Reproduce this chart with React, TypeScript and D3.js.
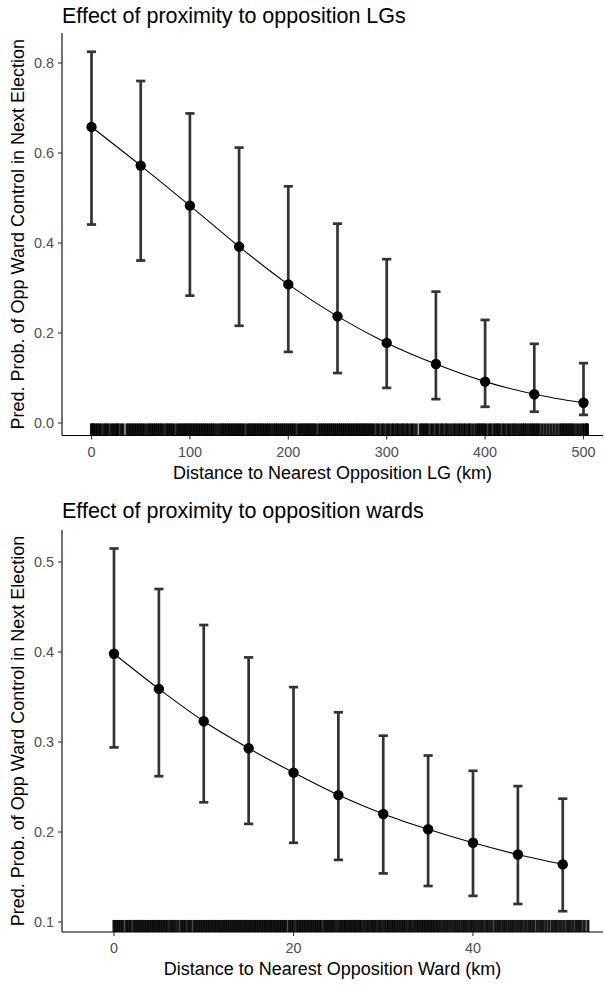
import React from "react";
import * as d3 from "d3";

// ---------- Panel 1: distance to opposition LGs ----------
const lgDistance = [0, 50, 100, 150, 200, 250, 300, 350, 400, 450, 500];
const lgEstimate = [0.658, 0.572, 0.483, 0.392, 0.308, 0.237, 0.178, 0.131, 0.092, 0.064, 0.045];
const lgUpper = [0.825, 0.760, 0.688, 0.612, 0.526, 0.443, 0.364, 0.292, 0.229, 0.176, 0.133];
const lgLower = [0.441, 0.361, 0.283, 0.216, 0.158, 0.111, 0.078, 0.053, 0.036, 0.025, 0.018];
const lgYTicks = [0, 0.2, 0.4, 0.6, 0.8];
const lgXTicks = [0, 100, 200, 300, 400, 500];
const lgRug = [
  0, 1, 2, 4, 6, 8, 10, 13, 15, 17, 20, 22, 24, 26, 27, 30, 32, 36, 38, 40, 42, 44, 46, 48, 50,
  52, 54, 57, 59, 61, 63, 65, 67, 69, 71, 73, 76, 78, 80, 82, 84, 87, 89, 91, 93, 95, 97, 99,
  101, 103, 105, 107, 109, 111, 113, 115, 117, 119, 121, 123, 125, 128, 131, 133, 135, 137,
  139, 141, 143, 145, 147, 149, 151, 153, 155, 158, 160, 162, 164, 166, 168, 170, 172, 174,
  176, 178, 180, 182, 185, 187, 189, 191, 193, 195, 197, 199, 201, 203, 205, 207, 210, 212,
  214, 216, 218, 220, 222, 224, 226, 228, 231, 233, 235, 237, 239, 241, 243, 245, 247, 249,
  251, 253, 255, 257, 259, 261, 263, 265, 267, 269, 271, 273, 275, 277, 279, 281, 283, 285,
  287, 290, 292, 295, 297, 300, 302, 305, 307, 310, 312, 315, 317, 320, 322, 325, 327, 330,
  334, 336, 338, 340, 342, 345, 347, 350, 352, 355, 357, 360, 362, 365, 368, 370, 373, 375,
  378, 380, 383, 385, 388, 391, 393, 395, 397, 399, 401, 404, 406, 409, 411, 413, 415, 418,
  420, 423, 425, 428, 430, 433, 436, 438, 440, 442, 445, 447, 449, 451, 453, 455, 458, 461,
  464, 467, 470, 473, 476, 478, 480, 482, 484, 486, 488, 490, 493, 496, 499, 501, 503, 504,
];

// ---------- Panel 2: distance to opposition wards ----------
const wardDistance = [0, 5, 10, 15, 20, 25, 30, 35, 40, 45, 50];
const wardEstimate = [0.398, 0.359, 0.323, 0.293, 0.266, 0.241, 0.220, 0.203, 0.188, 0.175, 0.164];
const wardUpper = [0.515, 0.470, 0.430, 0.394, 0.361, 0.333, 0.307, 0.285, 0.268, 0.251, 0.237];
const wardLower = [0.294, 0.262, 0.233, 0.209, 0.188, 0.169, 0.154, 0.140, 0.129, 0.120, 0.112];
const wardYTicks = [0.1, 0.2, 0.3, 0.4, 0.5];
const wardXTicks = [0, 20, 40];
const wardRug = [
  0, 0.25, 0.5, 0.75, 1.0, 1.35, 1.6, 1.85, 2.2, 2.45, 2.7, 2.95, 3.2, 3.45, 3.7, 3.95, 4.2,
  4.45, 4.7, 4.95, 5.2, 5.45, 5.7, 5.95, 6.3, 6.55, 6.8, 7.1, 7.45, 7.7, 7.95, 8.3, 8.55, 8.9,
  9.15, 9.4, 9.65, 9.9, 10.15, 10.4, 10.65, 10.9, 11.15, 11.4, 11.65, 11.9, 12.15, 12.4,
  12.65, 12.9, 13.15, 13.4, 13.65, 13.9, 14.15, 14.4, 14.65, 14.9, 15.15, 15.4, 15.65, 15.9,
  16.15, 16.4, 16.65, 16.9, 17.15, 17.4, 17.65, 17.9, 18.15, 18.4, 18.65, 18.9, 19.15, 19.5,
  19.75, 20.0, 20.35, 20.6, 20.85, 21.1, 21.35, 21.6, 21.85, 22.1, 22.35, 22.6, 22.85, 23.1,
  23.45, 23.7, 23.95, 24.2, 24.45, 24.75, 25.05, 25.3, 25.55, 25.8, 26.05, 26.3, 26.55, 26.8,
  27.05, 27.3, 27.55, 27.85, 28.15, 28.4, 28.7, 28.95, 29.2, 29.5, 29.75, 30.05, 30.35, 30.6,
  30.9, 31.15, 31.4, 31.7, 32.0, 32.25, 32.55, 32.85, 33.1, 33.4, 33.7, 33.95, 34.25, 34.5,
  34.75, 35.0, 35.25, 35.5, 35.75, 36.05, 36.35, 36.65, 36.95, 37.25, 37.55, 37.85, 38.15,
  38.45, 38.75, 39.05, 39.35, 39.65, 39.95, 40.25, 40.55, 40.85, 41.15, 41.5, 41.8, 42.1,
  42.45, 42.75, 43.05, 43.4, 43.7, 44.0, 44.3, 44.6, 44.9, 45.2, 45.5, 45.85, 46.2, 46.5,
  46.8, 47.15, 47.45, 47.75, 48.1, 48.45, 48.8, 49.1, 49.4, 49.75, 50.1, 50.45, 50.75, 51.1,
  51.45, 51.75, 52.05, 52.4, 52.8,
];

const FONT = "'Liberation Sans', Arial, Helvetica, sans-serif";

type PanelProps = {
  title: string;
  xLabel: string;
  yLabel: string;
  top: number;
  bottom: number;
  left: number;
  right: number;
  titleY: number;
  x: d3.ScaleLinear<number, number>;
  y: d3.ScaleLinear<number, number>;
  xs: number[];
  est: number[];
  lo: number[];
  hi: number[];
  rug: number[];
  xTicks: number[];
  yTicks: number[];
  xFmt: (v: number) => string;
  yFmt: (v: number) => string;
};

function Panel(p: PanelProps) {
  const pts = p.xs.map((d, i) => [p.x(d), p.y(p.est[i])] as [number, number]);
  const line = d3.line().curve(d3.curveMonotoneX)(pts) || "";
  const rugLen = (p.bottom - p.top) * 0.03;
  const capW = 4.6;
  const midX = (p.left + p.right) / 2;
  const midY = (p.top + p.bottom) / 2;
  return (
    <g>
      <text x={p.left} y={p.titleY} fontSize={21.5} fontFamily={FONT} fill="#000">
        {p.title}
      </text>
      {/* rug */}
      <g stroke="#000" strokeWidth={3.1} strokeOpacity={0.9}>
        {p.rug.map((r, i) => (
          <line key={i} x1={p.x(r)} x2={p.x(r)} y1={p.bottom} y2={p.bottom - rugLen} />
        ))}
      </g>
      {/* error bars */}
      <g stroke="#333333" strokeWidth={2.7} fill="none">
        {p.xs.map((d, i) => {
          const cx = p.x(d);
          return (
            <g key={i}>
              <line x1={cx} x2={cx} y1={p.y(p.hi[i])} y2={p.y(p.lo[i])} />
              <line x1={cx - capW} x2={cx + capW} y1={p.y(p.hi[i])} y2={p.y(p.hi[i])} />
              <line x1={cx - capW} x2={cx + capW} y1={p.y(p.lo[i])} y2={p.y(p.lo[i])} />
            </g>
          );
        })}
      </g>
      <path d={line} fill="none" stroke="#000" strokeWidth={1.1} />
      {pts.map((pt, i) => (
        <circle key={i} cx={pt[0]} cy={pt[1]} r={5.2} fill="#000" />
      ))}
      {/* axes */}
      <line x1={p.left} x2={p.left} y1={p.top} y2={p.bottom} stroke="#000" strokeWidth={1.1} />
      <line x1={p.left} x2={p.right} y1={p.bottom} y2={p.bottom} stroke="#000" strokeWidth={1.1} />
      {p.yTicks.map((t, i) => (
        <g key={"y" + i}>
          <line x1={p.left - 4} x2={p.left} y1={p.y(t)} y2={p.y(t)} stroke="#333" strokeWidth={1.1} />
          <text
            x={p.left - 8}
            y={p.y(t)}
            dy="0.35em"
            textAnchor="end"
            fontSize={14.4}
            fontFamily={FONT}
            fill="#4D4D4D"
          >
            {p.yFmt(t)}
          </text>
        </g>
      ))}
      {p.xTicks.map((t, i) => (
        <g key={"x" + i}>
          <line x1={p.x(t)} x2={p.x(t)} y1={p.bottom} y2={p.bottom + 4} stroke="#333" strokeWidth={1.1} />
          <text
            x={p.x(t)}
            y={p.bottom + 21}
            textAnchor="middle"
            fontSize={14.4}
            fontFamily={FONT}
            fill="#4D4D4D"
          >
            {p.xFmt(t)}
          </text>
        </g>
      ))}
      <text
        x={midX}
        y={p.bottom + 43}
        textAnchor="middle"
        fontSize={18}
        fontFamily={FONT}
        fill="#000"
      >
        {p.xLabel}
      </text>
      <text
        transform={`translate(${24},${midY}) rotate(-90)`}
        textAnchor="middle"
        fontSize={18}
        fontFamily={FONT}
        fill="#000"
      >
        {p.yLabel}
      </text>
    </g>
  );
}

export default function App() {
  const xTop = d3.scaleLinear().domain([0, 500]).range([91.5, 583.5]);
  const yTop = d3.scaleLinear().domain([0, 0.8]).range([423, 63]);
  const xBot = d3.scaleLinear().domain([0, 40]).range([114, 473]);
  const yBot = d3.scaleLinear().domain([0.1, 0.5]).range([922, 562]);
  const f1 = d3.format(".1f");
  const f0 = d3.format("d");
  return (
    <svg
      width={605}
      height={985}
      style={{ position: "absolute", left: 0, top: 0, background: "#fff" }}
    >
      <rect width={605} height={985} fill="#fff" />
      <Panel
        title="Effect of proximity to opposition LGs"
        xLabel="Distance to Nearest Opposition LG (km)"
        yLabel="Pred. Prob. of Opp Ward Control in Next Election"
        top={33}
        bottom={435.5}
        left={62}
        right={603}
        titleY={23}
        x={xTop}
        y={yTop}
        xs={lgDistance}
        est={lgEstimate}
        lo={lgLower}
        hi={lgUpper}
        rug={lgRug}
        xTicks={lgXTicks}
        yTicks={lgYTicks}
        xFmt={f0}
        yFmt={f1}
      />
      <Panel
        title="Effect of proximity to opposition wards"
        xLabel="Distance to Nearest Opposition Ward (km)"
        yLabel="Pred. Prob. of Opp Ward Control in Next Election"
        top={530}
        bottom={932}
        left={62}
        right={603}
        titleY={518}
        x={xBot}
        y={yBot}
        xs={wardDistance}
        est={wardEstimate}
        lo={wardLower}
        hi={wardUpper}
        rug={wardRug}
        xTicks={wardXTicks}
        yTicks={wardYTicks}
        xFmt={f0}
        yFmt={f1}
      />
    </svg>
  );
}
